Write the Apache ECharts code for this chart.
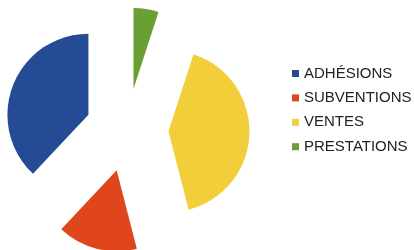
<!DOCTYPE html>
<html lang="fr">
<head>
    <meta charset="UTF-8">
    <title>Recettes</title>
    <style>
        html, body { margin: 0; padding: 0; background: #fff; }
        #container { width: 414px; height: 250px; }
    </style>
</head>
<body>
<div id="container"></div>
<script src="https://cdn.jsdelivr.net/npm/echarts@6/dist/echarts.min.js"></script>
<script type="text/javascript">
    // données (parts en %)
    var categories = ['ADHÉSIONS', 'SUBVENTIONS', 'VENTES', 'PRESTATIONS'];
    var values = [38, 16, 41, 5];
    var colors = ['#254b94', '#e0461b', '#f2cf3a', '#6aa033'];

    var chart = echarts.init(document.getElementById('container'));

    var option = {
        animation: false,
        legend: {
            orient: 'vertical',
            left: 292,
            top: 66,
            padding: 0,
            itemWidth: 7,
            itemHeight: 7,
            itemGap: 9.4,
            icon: 'rect',
            selectedMode: false,
            data: categories,
            textStyle: {
                fontFamily: 'Liberation Sans',
                fontSize: 15,
                color: '#222'
            }
        },
        series: [
            {
                name: 'recettes',
                type: 'pie',
                center: [127, 130],
                radius: 81,
                startAngle: 90,
                clockwise: false,
                selectedMode: 'multiple',
                selectedOffset: 41.5,
                label: {show: false},
                labelLine: {show: false},
                emphasis: {disabled: true},
                select: {itemStyle: {borderWidth: 0}},
                itemStyle: {borderWidth: 0},
                data: categories.map(function (c, i) {
                    return {
                        name: c,
                        value: values[i],
                        selected: true,
                        itemStyle: {color: colors[i]}
                    };
                })
            }
        ]
    };
    chart.setOption(option);
</script>
</body>
</html>
